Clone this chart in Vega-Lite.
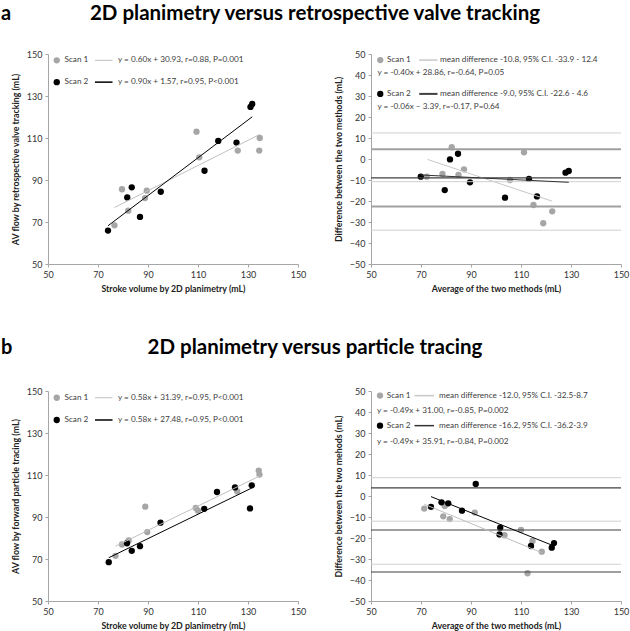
{
"$schema":"https://vega.github.io/schema/vega-lite/v6.json",
"padding":{"left":1,"top":3,"right":2,"bottom":2},
"config":{
 "font":"Lato",
 "view":{"stroke":null},
 "axis":{"domainColor":"#a6a6a6","tickColor":"#a6a6a6","tickSize":3,"grid":false,"labelFont":"Lato","labelFontSize":9,"labelColor":"#333333","labelPadding":3,"labelOverlap":false,"titleFont":"Lato","titleFontSize":8.8,"titleFontWeight":"bold","titleColor":"#222222","labelFlush":false},
 "axisX":{"titlePadding":5,"labelAngle":0},
 "axisY":{"titlePadding":6},
 "text":{"font":"Lato","fontSize":8.2,"color":"#404040","align":"left","baseline":"middle"},
 "circle":{"size":40,"opacity":1},
 "title":{"font":"Lato","color":"#000000","fontWeight":"bold"}
},
"datasets":{
 "a_sc":[
  {"scan":"Scan 1","sv":76.6,"av":68.4},{"scan":"Scan 1","sv":79.6,"av":85.6},{"scan":"Scan 1","sv":82.1,"av":75.4},{"scan":"Scan 1","sv":88.8,"av":81.4},{"scan":"Scan 1","sv":89.5,"av":84.9},{"scan":"Scan 1","sv":109.4,"av":113.0},{"scan":"Scan 1","sv":110.5,"av":100.8},{"scan":"Scan 1","sv":125.9,"av":104.0},{"scan":"Scan 1","sv":134.5,"av":104.0},{"scan":"Scan 1","sv":134.7,"av":110.0},
  {"scan":"Scan 2","sv":74.0,"av":65.9},{"scan":"Scan 2","sv":81.7,"av":81.7},{"scan":"Scan 2","sv":83.5,"av":86.5},{"scan":"Scan 2","sv":86.8,"av":72.4},{"scan":"Scan 2","sv":95.1,"av":84.4},{"scan":"Scan 2","sv":112.6,"av":94.4},{"scan":"Scan 2","sv":118.1,"av":108.6},{"scan":"Scan 2","sv":125.4,"av":107.8},{"scan":"Scan 2","sv":131.0,"av":124.8},{"scan":"Scan 2","sv":131.7,"av":126.2}],
 "a_fit":[{"scan":"Scan 1","sv":76.6,"av":76.9},{"scan":"Scan 1","sv":134.7,"av":111.7},{"scan":"Scan 2","sv":74.0,"av":68.2},{"scan":"Scan 2","sv":131.7,"av":120.1}],
 "a_ba":[
  {"scan":"Scan 1","avg":72.3,"diff":-8.4},{"scan":"Scan 1","avg":78.6,"diff":-7.1},{"scan":"Scan 1","avg":82.3,"diff":5.6},{"scan":"Scan 1","avg":85.0,"diff":-7.6},{"scan":"Scan 1","avg":87.2,"diff":-4.9},{"scan":"Scan 1","avg":105.6,"diff":-10.0},{"scan":"Scan 1","avg":111.2,"diff":3.2},{"scan":"Scan 1","avg":115.0,"diff":-21.9},{"scan":"Scan 1","avg":118.9,"diff":-30.6},{"scan":"Scan 1","avg":122.5,"diff":-24.9},
  {"scan":"Scan 2","avg":69.9,"diff":-8.4},{"scan":"Scan 2","avg":79.5,"diff":-14.8},{"scan":"Scan 2","avg":81.6,"diff":-0.2},{"scan":"Scan 2","avg":84.8,"diff":2.5},{"scan":"Scan 2","avg":89.6,"diff":-11.1},{"scan":"Scan 2","avg":103.6,"diff":-18.4},{"scan":"Scan 2","avg":113.2,"diff":-9.5},{"scan":"Scan 2","avg":116.4,"diff":-17.8},{"scan":"Scan 2","avg":127.8,"diff":-6.5},{"scan":"Scan 2","avg":129.1,"diff":-5.7}],
 "a_ba_fit":[{"scan":"Scan 1","avg":72.6,"diff":-0.2},{"scan":"Scan 1","avg":122.5,"diff":-20.1},{"scan":"Scan 2","avg":69.9,"diff":-7.6},{"scan":"Scan 2","avg":129.1,"diff":-11.1}],
 "a_ba_lines":[{"scan":"Scan 1","stat":"mean","value":-10.8},{"scan":"Scan 1","stat":"lower","value":-33.9},{"scan":"Scan 1","stat":"upper","value":12.4},{"scan":"Scan 2","stat":"mean","value":-9.0},{"scan":"Scan 2","stat":"lower","value":-22.6},{"scan":"Scan 2","stat":"upper","value":4.6}],
 "b_sc":[
  {"scan":"Scan 1","sv":77.0,"av":71.5},{"scan":"Scan 1","sv":79.6,"av":76.9},{"scan":"Scan 1","sv":82.3,"av":78.8},{"scan":"Scan 1","sv":88.9,"av":94.9},{"scan":"Scan 1","sv":89.7,"av":82.8},{"scan":"Scan 1","sv":109.1,"av":94.3},{"scan":"Scan 1","sv":110.0,"av":93.0},{"scan":"Scan 1","sv":125.7,"av":102.2},{"scan":"Scan 1","sv":134.3,"av":112.1},{"scan":"Scan 1","sv":134.6,"av":110.2},
  {"scan":"Scan 2","sv":74.3,"av":68.5},{"scan":"Scan 2","sv":81.6,"av":77.5},{"scan":"Scan 2","sv":83.5,"av":73.9},{"scan":"Scan 2","sv":86.8,"av":76.1},{"scan":"Scan 2","sv":95.0,"av":87.3},{"scan":"Scan 2","sv":112.5,"av":93.9},{"scan":"Scan 2","sv":117.6,"av":101.9},{"scan":"Scan 2","sv":124.8,"av":104.1},{"scan":"Scan 2","sv":130.8,"av":94.1},{"scan":"Scan 2","sv":131.5,"av":105.1}],
 "b_fit":[{"scan":"Scan 1","sv":77.0,"av":76.1},{"scan":"Scan 1","sv":134.6,"av":109.5},{"scan":"Scan 2","sv":74.3,"av":70.6},{"scan":"Scan 2","sv":131.5,"av":103.8}],
 "b_ba":[
  {"scan":"Scan 1","avg":71.3,"diff":-6.0},{"scan":"Scan 1","avg":78.9,"diff":-9.7},{"scan":"Scan 1","avg":79.5,"diff":-4.8},{"scan":"Scan 1","avg":81.5,"diff":-11.0},{"scan":"Scan 1","avg":91.5,"diff":-7.9},{"scan":"Scan 1","avg":103.4,"diff":-18.7},{"scan":"Scan 1","avg":110.0,"diff":-16.2},{"scan":"Scan 1","avg":114.6,"diff":-21.4},{"scan":"Scan 1","avg":118.3,"diff":-26.5},{"scan":"Scan 1","avg":112.6,"diff":-36.8},
  {"scan":"Scan 2","avg":74.0,"diff":-5.2},{"scan":"Scan 2","avg":78.2,"diff":-3.0},{"scan":"Scan 2","avg":80.9,"diff":-3.5},{"scan":"Scan 2","avg":86.4,"diff":-7.0},{"scan":"Scan 2","avg":91.9,"diff":5.7},{"scan":"Scan 2","avg":101.7,"diff":-15.1},{"scan":"Scan 2","avg":101.4,"diff":-18.3},{"scan":"Scan 2","avg":114.0,"diff":-23.8},{"scan":"Scan 2","avg":122.3,"diff":-24.6},{"scan":"Scan 2","avg":123.2,"diff":-22.4}],
 "b_ba_fit":[{"scan":"Scan 1","avg":71.3,"diff":-3.9},{"scan":"Scan 1","avg":118.3,"diff":-27.0},{"scan":"Scan 2","avg":74.0,"diff":-0.3},{"scan":"Scan 2","avg":123.2,"diff":-23.8}],
 "b_ba_lines":[{"scan":"Scan 1","stat":"mean","value":-12.0},{"scan":"Scan 1","stat":"lower","value":-32.5},{"scan":"Scan 1","stat":"upper","value":8.7},{"scan":"Scan 2","stat":"mean","value":-16.2},{"scan":"Scan 2","stat":"lower","value":-36.2},{"scan":"Scan 2","stat":"upper","value":3.9}],
 "one":[{}]
},
"columns":2,
"spacing":{"row":127,"column":73},
"bounds":"flush",
"concat":[
  {"width":250,"height":210,
   "title":{"text":"a","anchor":"start","frame":"group","dx":-47,"fontSize":20,"offset":26},
   "layer":[
    {"data":{"name":"a_sc"},"transform":[{"filter":"datum.scan=='Scan 1'"}],"mark":{"type":"circle","color":"#a6a6a6"},
     "encoding":{"x":{"field":"sv","type":"quantitative","scale":{"domain":[50,150],"nice":false,"zero":false},"axis":{"values":[50,70,90,110,130,150],"labelOverlap":false},"title":"Stroke volume by 2D planimetry (mL)"},
                 "y":{"field":"av","type":"quantitative","scale":{"domain":[50,150],"nice":false,"zero":false},"axis":{"values":[50,70,90,110,130,150],"labelOverlap":false},"title":"AV flow by retrospective valve tracking (mL)"}}},
    {"data":{"name":"a_sc"},"transform":[{"filter":"datum.scan=='Scan 2'"}],"mark":{"type":"circle","color":"#000000"},
     "encoding":{"x":{"field":"sv","type":"quantitative","title":"Stroke volume by 2D planimetry (mL)"},"y":{"field":"av","type":"quantitative","title":"AV flow by retrospective valve tracking (mL)"}}},
    {"data":{"name":"a_fit"},"transform":[{"filter":"datum.scan=='Scan 1'"}],"mark":{"type":"line","color":"#c0c0c0","strokeWidth":1},
     "encoding":{"x":{"field":"sv","type":"quantitative","title":"Stroke volume by 2D planimetry (mL)"},"y":{"field":"av","type":"quantitative","title":"AV flow by retrospective valve tracking (mL)"}}},
    {"data":{"name":"a_fit"},"transform":[{"filter":"datum.scan=='Scan 2'"}],"mark":{"type":"line","color":"#000000","strokeWidth":1},
     "encoding":{"x":{"field":"sv","type":"quantitative","title":"Stroke volume by 2D planimetry (mL)"},"y":{"field":"av","type":"quantitative","title":"AV flow by retrospective valve tracking (mL)"}}},
    {"data":{"name":"one"},"mark":{"type":"circle","color":"#a6a6a6"},"encoding":{"x":{"datum":53.5},"y":{"datum":147.0}}},
    {"data":{"name":"one"},"mark":{"type":"circle","color":"#000000"},"encoding":{"x":{"datum":53.5},"y":{"datum":136.6}}},
    {"data":{"name":"one"},"mark":{"type":"rule","color":"#c0c0c0","strokeWidth":1},"encoding":{"x":{"datum":68.8},"x2":{"datum":75.8},"y":{"datum":147.0}}},
    {"data":{"name":"one"},"mark":{"type":"rule","color":"#000000","strokeWidth":1.5},"encoding":{"x":{"datum":68.8},"x2":{"datum":75.8},"y":{"datum":136.6}}},
    {"data":{"name":"one"},"mark":"text","encoding":{"x":{"datum":56.6},"y":{"datum":147.0},"text":{"value":"Scan 1"}}},
    {"data":{"name":"one"},"mark":"text","encoding":{"x":{"datum":56.6},"y":{"datum":136.6},"text":{"value":"Scan 2"}}},
    {"data":{"name":"one"},"mark":"text","encoding":{"x":{"datum":78.0},"y":{"datum":147.0},"text":{"value":"y = 0.60x + 30.93, r=0.88, P=0.001"}}},
    {"data":{"name":"one"},"mark":"text","encoding":{"x":{"datum":78.0},"y":{"datum":136.6},"text":{"value":"y = 0.90x + 1.57, r=0.95, P<0.001"}}}
   ]},
  {"width":250,"height":210,
   "title":{"text":"2D planimetry versus retrospective valve tracking","anchor":"middle","frame":"group","dx":-181,"fontSize":20.5,"offset":26},
   "layer":[
    {"data":{"name":"a_ba"},"transform":[{"filter":"datum.scan=='Scan 1'"}],"mark":{"type":"circle","color":"#a6a6a6"},
     "encoding":{"x":{"field":"avg","type":"quantitative","scale":{"domain":[50,150],"nice":false,"zero":false},"axis":{"values":[50,70,90,110,130,150],"labelOverlap":false},"title":"Average of the two methods (mL)"},
                 "y":{"field":"diff","type":"quantitative","scale":{"domain":[-50,50],"nice":false,"zero":false},"axis":{"values":[-50,-40,-30,-20,-10,0,10,20,30,40,50],"labelOverlap":false,"tickCount":11},"title":"Difference between the two methods (mL)"}}},
    {"data":{"name":"a_ba"},"transform":[{"filter":"datum.scan=='Scan 2'"}],"mark":{"type":"circle","color":"#000000"},
     "encoding":{"x":{"field":"avg","type":"quantitative","title":"Average of the two methods (mL)"},"y":{"field":"diff","type":"quantitative","title":"Difference between the two methods (mL)"}}},
    {"data":{"name":"a_ba_lines"},"transform":[{"filter":"datum.scan=='Scan 1'"}],"mark":{"type":"rule","color":"#d0d0d0","strokeWidth":1},
     "encoding":{"y":{"field":"value","type":"quantitative","title":"Difference between the two methods (mL)"}}},
    {"data":{"name":"a_ba_lines"},"transform":[{"filter":"datum.scan=='Scan 2' && datum.stat!='mean'"}],"mark":{"type":"rule","color":"#a0a0a0","strokeWidth":2},
     "encoding":{"y":{"field":"value","type":"quantitative","title":"Difference between the two methods (mL)"}}},
    {"data":{"name":"a_ba_lines"},"transform":[{"filter":"datum.scan=='Scan 2' && datum.stat=='mean'"}],"mark":{"type":"rule","color":"#404040","strokeWidth":1.2},
     "encoding":{"y":{"field":"value","type":"quantitative","title":"Difference between the two methods (mL)"}}},
    {"data":{"name":"a_ba_fit"},"transform":[{"filter":"datum.scan=='Scan 1'"}],"mark":{"type":"line","color":"#c8c8c8","strokeWidth":1},
     "encoding":{"x":{"field":"avg","type":"quantitative","title":"Average of the two methods (mL)"},"y":{"field":"diff","type":"quantitative","title":"Difference between the two methods (mL)"}}},
    {"data":{"name":"a_ba_fit"},"transform":[{"filter":"datum.scan=='Scan 2'"}],"mark":{"type":"line","color":"#333333","strokeWidth":1},
     "encoding":{"x":{"field":"avg","type":"quantitative","title":"Average of the two methods (mL)"},"y":{"field":"diff","type":"quantitative","title":"Difference between the two methods (mL)"}}},
    {"data":{"name":"one"},"mark":{"type":"circle","color":"#a6a6a6"},"encoding":{"x":{"datum":53.7},"y":{"datum":47.1}}},
    {"data":{"name":"one"},"mark":{"type":"circle","color":"#000000"},"encoding":{"x":{"datum":53.7},"y":{"datum":31.0}}},
    {"data":{"name":"one"},"mark":{"type":"rule","color":"#c8c8c8","strokeWidth":1.5},"encoding":{"x":{"datum":69.3},"x2":{"datum":76.6},"y":{"datum":47.1}}},
    {"data":{"name":"one"},"mark":{"type":"rule","color":"#404040","strokeWidth":2},"encoding":{"x":{"datum":69.3},"x2":{"datum":76.6},"y":{"datum":31.0}}},
    {"data":{"name":"one"},"mark":"text","encoding":{"x":{"datum":56.4},"y":{"datum":47.1},"text":{"value":"Scan 1"}}},
    {"data":{"name":"one"},"mark":"text","encoding":{"x":{"datum":56.4},"y":{"datum":31.0},"text":{"value":"Scan 2"}}},
    {"data":{"name":"one"},"mark":"text","encoding":{"x":{"datum":77.6},"y":{"datum":47.1},"text":{"value":"mean difference -10.8, 95% C.I. -33.9 - 12.4"}}},
    {"data":{"name":"one"},"mark":"text","encoding":{"x":{"datum":52.6},"y":{"datum":40.8},"text":{"value":"y = -0.40x + 28.86, r=-0.64, P=0.05"}}},
    {"data":{"name":"one"},"mark":"text","encoding":{"x":{"datum":77.6},"y":{"datum":31.0},"text":{"value":"mean difference -9.0, 95% C.I. -22.6 - 4.6"}}},
    {"data":{"name":"one"},"mark":"text","encoding":{"x":{"datum":52.6},"y":{"datum":24.8},"text":{"value":"y = -0.06x – 3.39, r=-0.17, P=0.64"}}}
   ]},
  {"width":250,"height":210,
   "title":{"text":"b","anchor":"start","frame":"group","dx":-47,"fontSize":20,"offset":29},
   "layer":[
    {"data":{"name":"b_sc"},"transform":[{"filter":"datum.scan=='Scan 1'"}],"mark":{"type":"circle","color":"#a6a6a6"},
     "encoding":{"x":{"field":"sv","type":"quantitative","scale":{"domain":[50,150],"nice":false,"zero":false},"axis":{"values":[50,70,90,110,130,150],"labelOverlap":false},"title":"Stroke volume by 2D planimetry (mL)"},
                 "y":{"field":"av","type":"quantitative","scale":{"domain":[50,150],"nice":false,"zero":false},"axis":{"values":[50,70,90,110,130,150],"labelOverlap":false},"title":"AV flow by forward particle tracing (mL)"}}},
    {"data":{"name":"b_sc"},"transform":[{"filter":"datum.scan=='Scan 2'"}],"mark":{"type":"circle","color":"#000000"},
     "encoding":{"x":{"field":"sv","type":"quantitative","title":"Stroke volume by 2D planimetry (mL)"},"y":{"field":"av","type":"quantitative","title":"AV flow by forward particle tracing (mL)"}}},
    {"data":{"name":"b_fit"},"transform":[{"filter":"datum.scan=='Scan 1'"}],"mark":{"type":"line","color":"#c0c0c0","strokeWidth":1},
     "encoding":{"x":{"field":"sv","type":"quantitative","title":"Stroke volume by 2D planimetry (mL)"},"y":{"field":"av","type":"quantitative","title":"AV flow by forward particle tracing (mL)"}}},
    {"data":{"name":"b_fit"},"transform":[{"filter":"datum.scan=='Scan 2'"}],"mark":{"type":"line","color":"#000000","strokeWidth":1},
     "encoding":{"x":{"field":"sv","type":"quantitative","title":"Stroke volume by 2D planimetry (mL)"},"y":{"field":"av","type":"quantitative","title":"AV flow by forward particle tracing (mL)"}}},
    {"data":{"name":"one"},"mark":{"type":"circle","color":"#a6a6a6"},"encoding":{"x":{"datum":53.5},"y":{"datum":146.8}}},
    {"data":{"name":"one"},"mark":{"type":"circle","color":"#000000"},"encoding":{"x":{"datum":53.5},"y":{"datum":136.2}}},
    {"data":{"name":"one"},"mark":{"type":"rule","color":"#c0c0c0","strokeWidth":1},"encoding":{"x":{"datum":68.8},"x2":{"datum":75.8},"y":{"datum":146.8}}},
    {"data":{"name":"one"},"mark":{"type":"rule","color":"#000000","strokeWidth":1.5},"encoding":{"x":{"datum":68.8},"x2":{"datum":75.8},"y":{"datum":136.2}}},
    {"data":{"name":"one"},"mark":"text","encoding":{"x":{"datum":56.6},"y":{"datum":146.8},"text":{"value":"Scan 1"}}},
    {"data":{"name":"one"},"mark":"text","encoding":{"x":{"datum":56.6},"y":{"datum":136.2},"text":{"value":"Scan 2"}}},
    {"data":{"name":"one"},"mark":"text","encoding":{"x":{"datum":78.0},"y":{"datum":146.8},"text":{"value":"y = 0.58x + 31.39, r=0.95, P<0.001"}}},
    {"data":{"name":"one"},"mark":"text","encoding":{"x":{"datum":78.0},"y":{"datum":136.2},"text":{"value":"y = 0.58x + 27.48, r=0.95, P<0.001"}}}
   ]},
  {"width":250,"height":210,
   "title":{"text":"2D planimetry versus particle tracing","anchor":"middle","frame":"group","dx":-181,"fontSize":20.5,"offset":29},
   "layer":[
    {"data":{"name":"b_ba"},"transform":[{"filter":"datum.scan=='Scan 1'"}],"mark":{"type":"circle","color":"#a6a6a6"},
     "encoding":{"x":{"field":"avg","type":"quantitative","scale":{"domain":[50,150],"nice":false,"zero":false},"axis":{"values":[50,70,90,110,130,150],"labelOverlap":false},"title":"Average of the two methods (mL)"},
                 "y":{"field":"diff","type":"quantitative","scale":{"domain":[-50,50],"nice":false,"zero":false},"axis":{"values":[-50,-40,-30,-20,-10,0,10,20,30,40,50],"labelOverlap":false,"tickCount":11},"title":"Difference between the two mehods (mL)"}}},
    {"data":{"name":"b_ba"},"transform":[{"filter":"datum.scan=='Scan 2'"}],"mark":{"type":"circle","color":"#000000"},
     "encoding":{"x":{"field":"avg","type":"quantitative","title":"Average of the two methods (mL)"},"y":{"field":"diff","type":"quantitative","title":"Difference between the two mehods (mL)"}}},
    {"data":{"name":"b_ba_lines"},"transform":[{"filter":"datum.scan=='Scan 1'"}],"mark":{"type":"rule","color":"#d0d0d0","strokeWidth":1},
     "encoding":{"y":{"field":"value","type":"quantitative","title":"Difference between the two mehods (mL)"}}},
    {"data":{"name":"b_ba_lines"},"transform":[{"filter":"datum.scan=='Scan 2'"}],"mark":{"type":"rule","color":"#404040","strokeWidth":1.2},
     "encoding":{"y":{"field":"value","type":"quantitative","title":"Difference between the two mehods (mL)"}}},
    {"data":{"name":"b_ba_fit"},"transform":[{"filter":"datum.scan=='Scan 1'"}],"mark":{"type":"line","color":"#c0c0c0","strokeWidth":1},
     "encoding":{"x":{"field":"avg","type":"quantitative","title":"Average of the two methods (mL)"},"y":{"field":"diff","type":"quantitative","title":"Difference between the two mehods (mL)"}}},
    {"data":{"name":"b_ba_fit"},"transform":[{"filter":"datum.scan=='Scan 2'"}],"mark":{"type":"line","color":"#000000","strokeWidth":1},
     "encoding":{"x":{"field":"avg","type":"quantitative","title":"Average of the two methods (mL)"},"y":{"field":"diff","type":"quantitative","title":"Difference between the two mehods (mL)"}}},
    {"data":{"name":"one"},"mark":{"type":"circle","color":"#a6a6a6"},"encoding":{"x":{"datum":53.6},"y":{"datum":47.8}}},
    {"data":{"name":"one"},"mark":{"type":"circle","color":"#000000"},"encoding":{"x":{"datum":53.6},"y":{"datum":33.5}}},
    {"data":{"name":"one"},"mark":{"type":"rule","color":"#c8c8c8","strokeWidth":1.5},"encoding":{"x":{"datum":67.4},"x2":{"datum":75.2},"y":{"datum":47.8}}},
    {"data":{"name":"one"},"mark":{"type":"rule","color":"#333333","strokeWidth":1.5},"encoding":{"x":{"datum":67.4},"x2":{"datum":75.2},"y":{"datum":33.5}}},
    {"data":{"name":"one"},"mark":"text","encoding":{"x":{"datum":56.3},"y":{"datum":47.8},"text":{"value":"Scan 1"}}},
    {"data":{"name":"one"},"mark":"text","encoding":{"x":{"datum":56.3},"y":{"datum":33.5},"text":{"value":"Scan 2"}}},
    {"data":{"name":"one"},"mark":"text","encoding":{"x":{"datum":77.2},"y":{"datum":47.8},"text":{"value":"mean difference -12.0, 95% C.I. -32.5-8.7"}}},
    {"data":{"name":"one"},"mark":"text","encoding":{"x":{"datum":52.4},"y":{"datum":40.6},"text":{"value":"y = -0.49x + 31.00, r=-0.85, P=0.002"}}},
    {"data":{"name":"one"},"mark":"text","encoding":{"x":{"datum":77.2},"y":{"datum":33.5},"text":{"value":"mean difference -16.2, 95% C.I. -36.2-3.9"}}},
    {"data":{"name":"one"},"mark":"text","encoding":{"x":{"datum":52.4},"y":{"datum":25.9},"text":{"value":"y = -0.49x + 35.91, r=-0.84, P=0.002"}}}
   ]}
]
}
